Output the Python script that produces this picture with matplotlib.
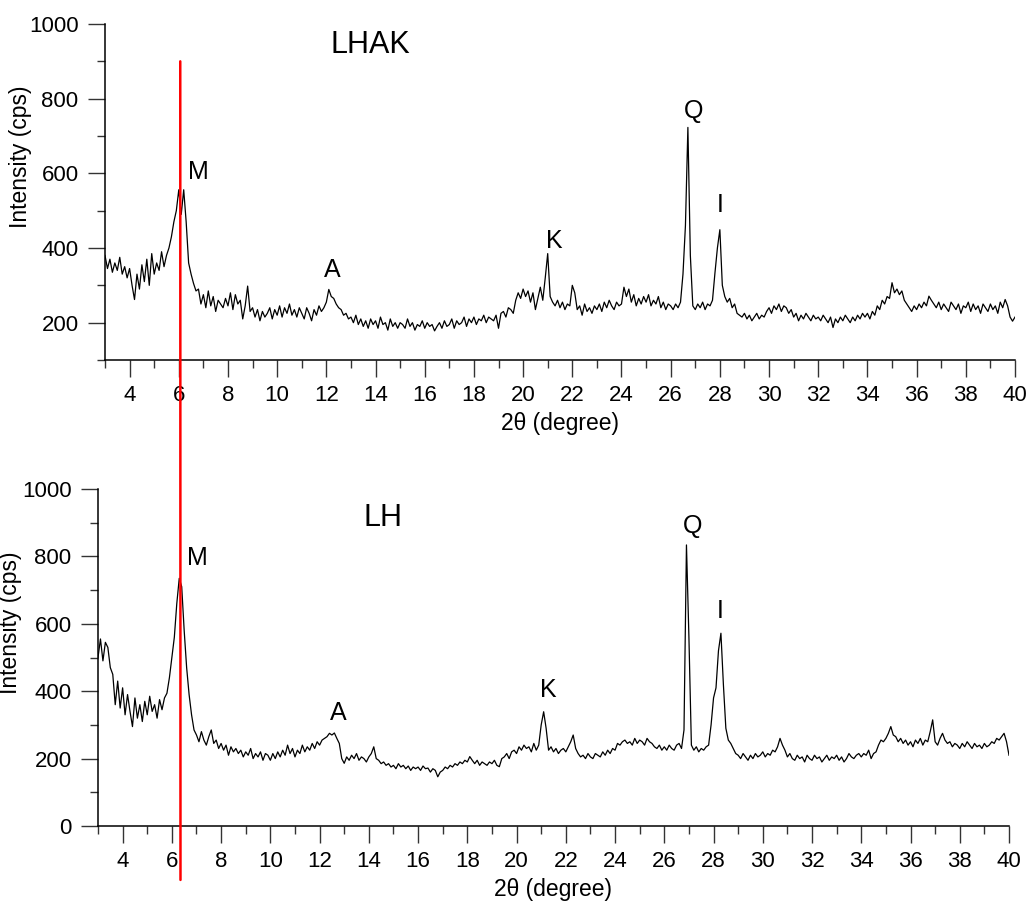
import numpy as np
import matplotlib
matplotlib.use("Agg")
import matplotlib.pyplot as plt
from matplotlib.patches import ConnectionPatch

plt.rcParams['font.family'] = ['Liberation Sans', 'DejaVu Sans']

# 2-theta grid (degree), 0.1 step from 3 to 40
two_theta = np.round(np.arange(3.0, 40.05, 0.1), 2)

# LHAK intensity (cps)
lhak = [
    380, 345, 370, 335, 360, 340, 375, 330, 350, 320,
    345, 300, 262, 330, 290, 355, 310, 370, 300, 385,
    330, 360, 340, 390, 350, 380, 400, 430, 470, 500,
    556, 490, 556, 470, 360, 330, 305, 285, 290, 250,
    275, 240, 285, 245, 270, 230, 260, 250, 240, 265,
    245, 280, 235, 275, 250, 260, 210, 245, 298, 230,
    240, 215, 235, 205, 230, 215, 225, 240, 210, 235,
    220, 245, 215, 240, 225, 250, 220, 235, 215, 240,
    225, 210, 240, 225, 205, 235, 220, 245, 230, 240,
    255, 289, 270, 265, 250, 240, 235, 220, 225, 210,
    215, 200, 220, 195, 210, 190, 205, 185, 210, 195,
    205, 185, 215, 195, 200, 180, 210, 190, 200, 185,
    200, 195, 185, 210, 190, 200, 180, 195, 190, 205,
    185, 200, 190, 195, 178, 190, 200, 185, 205, 190,
    195, 210, 185, 205, 195, 200, 215, 190, 210, 200,
    215, 195, 210, 205, 220, 200, 215, 210, 205, 220,
    185, 225, 230, 215, 240, 235, 225, 260, 280, 265,
    290, 270, 285, 255, 280, 235, 265, 295, 260, 320,
    385, 270, 255, 245, 260, 240, 255, 235, 250, 245,
    300, 280, 235, 245, 220, 250, 230, 240, 225, 245,
    235, 250, 230, 255, 240, 260, 245, 235, 255, 245,
    250, 295, 270, 290, 255, 275, 245, 265, 250, 270,
    255, 275, 245, 260, 250, 270, 240, 255, 235, 250,
    245, 235, 250, 240, 255, 330, 460, 723, 380, 245,
    235, 250, 240, 255, 235, 250, 245, 260, 333, 400,
    449, 300, 270, 255, 265, 240, 250, 225, 220, 215,
    225, 210, 220, 205, 215, 225, 210, 220, 215, 230,
    240, 225, 245, 235, 250, 230, 245, 240, 225, 235,
    215, 225, 205, 220, 210, 225, 215, 205, 220, 210,
    215, 205, 220, 210, 200, 215, 187, 210, 200, 215,
    205, 220, 210, 200, 215, 205, 220, 210, 225, 215,
    225, 210, 230, 220, 245, 235, 260, 250, 270, 265,
    307, 280, 290, 275, 285, 260, 250, 240, 230, 245,
    235, 250, 240, 255, 245, 271, 260, 250, 240, 255,
    235, 250, 240, 230, 255, 245, 235, 250, 225, 245,
    240, 255, 230, 250, 235, 245, 225, 250, 240, 230,
    250, 235, 245, 225, 255, 240, 262, 245, 215, 204,
    215,
]

# LH intensity (cps)
lh = [
    500, 555, 490, 545, 530, 470, 450, 360, 430, 350,
    410, 330, 390, 340, 295, 380, 320, 360, 310, 370,
    330, 385, 340, 360, 320, 375, 345, 380, 394, 440,
    500, 560, 660, 735, 710, 580, 470, 390, 330, 285,
    270, 250, 280, 255, 240, 265, 285, 245, 255, 230,
    245, 225, 240, 210, 235, 220, 230, 215, 225, 205,
    220, 210, 230, 200, 215, 205, 220, 195, 215, 210,
    195, 215, 200, 220, 205, 225, 210, 240, 215, 230,
    205, 225, 215, 240, 220, 235, 225, 245, 230, 250,
    240, 255, 260, 265, 275, 270, 276, 260, 245, 200,
    186, 205, 195, 210, 200, 215, 195, 205, 200, 190,
    205, 215, 235, 200, 195, 185, 190, 180, 185, 175,
    180, 170, 185, 175, 180, 170, 178, 165, 175, 170,
    175, 165, 178, 170, 172, 160, 170, 165, 146, 160,
    165, 175, 170, 180, 175, 185, 180, 190, 185, 195,
    190, 206, 195, 185, 195, 180, 190, 185, 180, 190,
    185, 195, 180, 176, 200, 205, 215, 200, 220, 225,
    215, 235, 225, 240, 230, 235, 220, 245, 225, 240,
    300, 339, 290, 225, 235, 220, 230, 215, 225, 230,
    220, 235, 250, 270, 230, 215, 205, 210, 200, 215,
    205, 200, 215, 210, 205, 220, 210, 225, 215, 230,
    225, 245, 240, 250, 255, 245, 250, 240, 260, 245,
    255, 250, 240, 260, 250, 245, 235, 230, 240, 225,
    235, 225, 240, 230, 225, 240, 245, 230, 285, 834,
    560, 240, 225, 235, 220, 230, 225, 235, 240, 300,
    380, 410, 520, 572, 420, 290, 255, 245, 230, 215,
    210, 200, 215, 205, 195, 210, 200, 215, 205, 210,
    220, 205, 215, 210, 225, 220, 235, 260, 240, 225,
    205, 215, 200, 195, 210, 200, 205, 190, 210, 200,
    195, 210, 200, 205, 190, 200, 210, 195, 205, 200,
    210, 195, 205, 190, 200, 215, 205, 200, 210, 215,
    205, 215, 210, 225, 200, 215, 220, 240, 255, 250,
    260, 275, 295, 270, 265, 250, 260, 245, 255, 240,
    250, 235, 255, 245, 260, 240, 255, 250, 280, 315,
    250, 240, 260, 275, 255, 245, 250, 235, 245, 240,
    230, 245, 235, 250, 240, 230, 245, 235, 240, 230,
    245, 235, 240, 250, 245, 260, 255, 265, 275, 250,
    210,
]

# Peak labels: text, x (2theta), y (cps)
peak_names = ['M', 'A', 'K', 'Q', 'I']
lhak_label_x = [6.37, 12.25, 21.25, 26.94, 28.0]
lhak_label_y = [604, 342, 420, 767, 515]
lh_label_x = [6.62, 12.74, 21.29, 27.17, 28.28]
lh_label_y = [794, 335, 404, 890, 638]

sample_names = ['LHAK', 'LH']
sample_xy = [(12.15, 944), (13.77, 914)]

# reference (red) line ends
ref_top = (6.06, 900)
ref_bottom = (6.35, -160)

W, H = 1030, 905
fig = plt.figure(figsize=(W / 100, H / 100), dpi=100)
ax1 = fig.add_axes([105 / W, 1 - 360 / H, 910 / W, 336 / H])
ax2 = fig.add_axes([98 / W, 1 - 826 / H, 911 / W, 337 / H])

panels = [
    (ax1, lhak, (100, 1000), lhak_label_x, lhak_label_y),
    (ax2, lh, (0, 1000), lh_label_x, lh_label_y),
]

for i, (ax, y, ylim, lx, ly) in enumerate(panels):
    ax.plot(two_theta, y, color='black', lw=0.9)
    ax.set_xlim(3, 40)
    ax.set_ylim(*ylim)
    ax.set_xticks(np.arange(4, 41, 2))
    ax.set_xticks(np.arange(3, 41, 2), minor=True)
    ax.set_yticks(np.arange(200 if i == 0 else 0, 1001, 200))
    ax.set_yticks(np.arange(ylim[0], 1001, 100), minor=True)
    for s in ['top', 'right']:
        ax.spines[s].set_visible(False)
    for s in ['left', 'bottom']:
        ax.spines[s].set_linewidth(1.1)
    ax.tick_params(which='major', direction='out', length=12, width=1.0,
                   labelsize=16, pad=6, color='#333333')
    ax.tick_params(which='minor', direction='out', length=6, width=1.0,
                   color='#333333')
    ax.tick_params(axis='y', which='major', pad=7)
    ax.set_xlabel('2θ (degree)', fontsize=16.5, labelpad=4)
    ax.set_ylabel('Intensity (cps)', fontsize=16.5)
    for name, px, py in zip(peak_names, lx, ly):
        ha = 'left' if name == 'M' else 'center'
        ax.text(px, py, name, fontsize=18, ha=ha, va='center')
    sx, sy = sample_xy[i]
    ax.text(sx, sy, sample_names[i], fontsize=22, ha='left', va='center')

ax1.yaxis.set_label_coords(-0.080, 0.604)
ax2.yaxis.set_label_coords(-0.083, 0.602)

con = ConnectionPatch(xyA=ref_top, coordsA=ax1.transData,
                      xyB=ref_bottom, coordsB=ax2.transData,
                      color='red', lw=1.8)
fig.add_artist(con)

fig.savefig('out.png', dpi=100)
